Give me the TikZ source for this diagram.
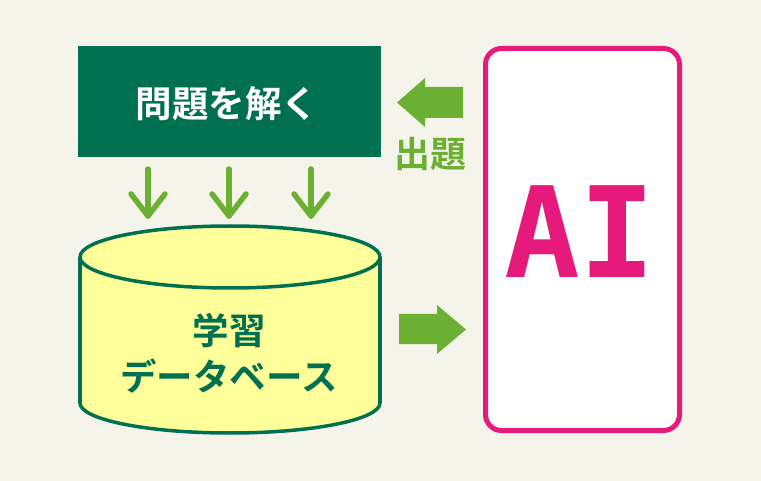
\documentclass[tikz,border=0pt]{standalone}
\usepackage{fontspec}
\newfontfamily\jp{Noto Sans CJK JP}[BoldFont={Noto Sans CJK JP Bold}]
\newfontfamily\aimono{DejaVu Sans Mono}[BoldFont={DejaVu Sans Mono Bold}]
\definecolor{bgc}{HTML}{F4F4EA}
\definecolor{dkgreen}{HTML}{007050}
\definecolor{ltgreen}{HTML}{6CB033}
\definecolor{dbyellow}{HTML}{FFFF99}
\definecolor{aimag}{HTML}{E61A7B}
\tikzset{
  jptext/.style={font=\jp\bfseries\fontsize{36.5}{46}\selectfont, align=center, inner sep=0pt},
  fatarrow/.style={fill=ltgreen, draw=none},
  chevron/.style={draw=ltgreen, line width=5.5pt, line cap=round, line join=round},
  dbline/.style={draw=dkgreen, line width=3.5pt}
}
\begin{document}
\begin{tikzpicture}[x=1pt,y=-1pt]
\fill[bgc] (0,0) rectangle (761,481);
\useasboundingbox (0,0) rectangle (761,481);

% task box
\node[fill=dkgreen, minimum width=303pt, minimum height=111pt, anchor=north west, inner sep=0pt] (taskbox) at (78,46) {};
\node[jptext, text=white] (task) at (227,104) {問題を解く};

% AI box
\draw[draw=aimag, line width=5pt, rounded corners=16pt, fill=white] (485.5,48.5) rectangle (679.5,430.5);
\node[inner sep=0pt] (aibox) at (582.5,239.5) {};
\node[font=\aimono\bfseries\fontsize{126}{126}\selectfont, text=aimag, inner sep=0pt] (ai) at (580,232) {AI};

% database cylinder
\fill[dbyellow] (230,403) ellipse [x radius=150, y radius=30];
\draw[dbline] (230,403) ellipse [x radius=150, y radius=30];
\fill[dbyellow] (80,257) rectangle (380,403);
\draw[dbline] (80,257) -- (80,403);
\draw[dbline] (380,257) -- (380,403);
\filldraw[dbline, fill=dbyellow] (230,257) ellipse [x radius=150, y radius=31];
\node[jptext, text=dkgreen] (db) at (229,353) {学習\\データベース};

% left arrow (question)
\fill[fatarrow] (397,102.5) -- (425,78) -- (425,87) -- (463,87) -- (463,118) -- (425,118) -- (425,127) -- cycle;
\node[font=\jp\bfseries\fontsize{36}{36}\selectfont, text=ltgreen, inner sep=0pt] (q) at (430,154) {出題};

% right arrow
\fill[fatarrow] (399,314) -- (437,314) -- (437,305) -- (466,329.5) -- (437,354) -- (437,344) -- (399,344) -- cycle;

% down chevrons
\foreach \xx [count=\i] in {148,229,311} {
  \coordinate (s\i) at (\xx,169);
  \coordinate (t\i) at (\xx,216);
  \draw[chevron] (s\i) -- (t\i);
  \draw[chevron] (\xx-17,194) -- (t\i) -- (\xx+17,194);
}
\end{tikzpicture}
\end{document}
